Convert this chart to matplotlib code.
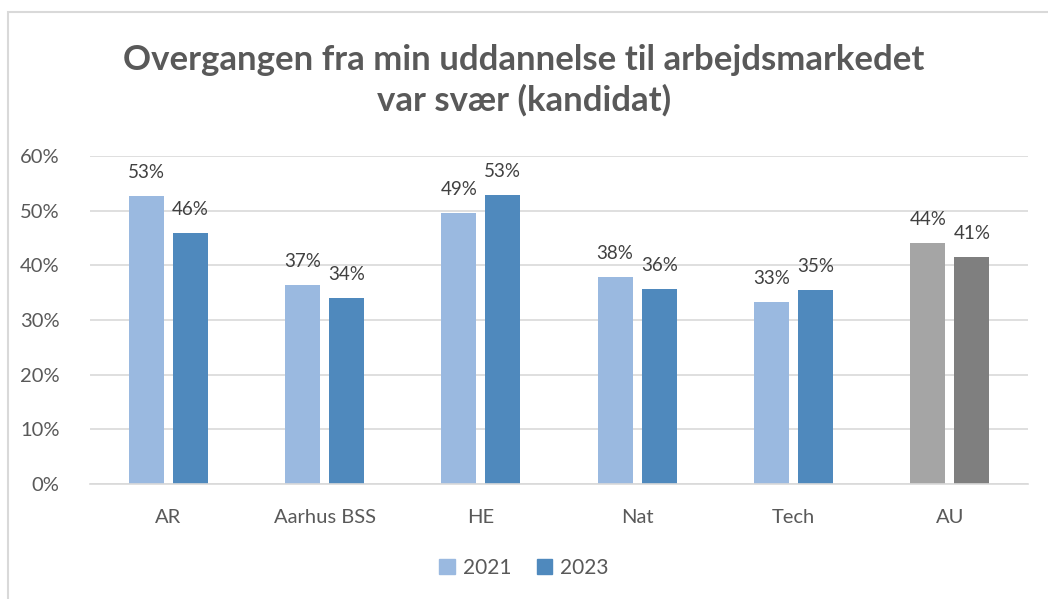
import numpy as np
import matplotlib.pyplot as plt
from matplotlib.patches import Rectangle

plt.rcParams['font.family'] = ['Lato', 'DejaVu Sans']

# Data
categories = ['AR', 'Aarhus BSS', 'HE', 'Nat', 'Tech', 'AU']
values_2021 = [0.527, 0.364, 0.496, 0.379, 0.333, 0.441]
values_2023 = [0.459, 0.340, 0.529, 0.357, 0.355, 0.415]
labels_2021 = ['53%', '37%', '49%', '38%', '33%', '44%']
labels_2023 = ['46%', '34%', '53%', '36%', '35%', '41%']
series_names = ['2021', '2023']

col_2021 = '#9AB9E0'
col_2023 = '#4F89BD'
col_au_2021 = '#A5A5A5'
col_au_2023 = '#7F7F7F'
txt_col = '#595959'

fig = plt.figure(figsize=(10.48, 5.99), dpi=100)

# chart frame (cut off at top/right like the screenshot)
fig.patches.append(Rectangle((8 / 1048, -0.1), 1.2, (599 - 12) / 599 + 0.1,
                             transform=fig.transFigure, fill=False,
                             edgecolor='#D9D9D9', linewidth=1.5))

ax = fig.add_axes([90 / 1048, (599 - 484) / 599, 938 / 1048, (484 - 156) / 599])

x = np.arange(len(categories))
w = 0.224
off = 0.141
c1 = [col_2021] * 5 + [col_au_2021]
c2 = [col_2023] * 5 + [col_au_2023]
ax.bar(x - off, values_2021, w, color=c1, label=series_names[0])
ax.bar(x + off, values_2023, w, color=c2, label=series_names[1])

for xi, v, lab in zip(x - off, values_2021, labels_2021):
    ax.text(xi, v + 0.028, lab, ha='center', va='bottom', fontsize=13.5, color='#404040')
for xi, v, lab in zip(x + off, values_2023, labels_2023):
    ax.text(xi, v + 0.028, lab, ha='center', va='bottom', fontsize=13.5, color='#404040')

ax.set_xlim(-0.5, len(categories) - 0.5)
ax.set_ylim(0, 0.6)
ax.set_yticks(np.arange(0, 0.61, 0.1))
ax.set_yticklabels([f'{int(round(t * 100))}%' for t in np.arange(0, 0.61, 0.1)])
ax.set_xticks(x)
ax.set_xticklabels(categories)
ax.tick_params(axis='both', length=0, labelsize=14.5, colors=txt_col)
ax.tick_params(axis='x', pad=18)
ax.tick_params(axis='y', pad=22)
ax.yaxis.grid(True, color='#D9D9D9', linewidth=1.2)
ax.set_axisbelow(True)
for s in ['top', 'right', 'left']:
    ax.spines[s].set_visible(False)
ax.spines['bottom'].set_color('#D9D9D9')
ax.spines['bottom'].set_linewidth(1.2)

fig.text(0.5, 0.866, 'Overgangen fra min uddannelse til arbejdsmarkedet\nvar svær (kandidat)',
         ha='center', va='center', fontsize=25, fontweight='bold', color=txt_col,
         linespacing=1.3)

leg = fig.legend(handles=[Rectangle((0, 0), 1, 1, color=col_2021),
                          Rectangle((0, 0), 1, 1, color=col_2023)],
                 labels=series_names, loc='center', bbox_to_anchor=(0.5, 0.052),
                 ncol=2, frameon=False, fontsize=15, handlelength=0.75, handleheight=0.75,
                 handletextpad=0.4, columnspacing=1.2)
for t in leg.get_texts():
    t.set_color(txt_col)

fig.savefig('out.png', dpi=100)
